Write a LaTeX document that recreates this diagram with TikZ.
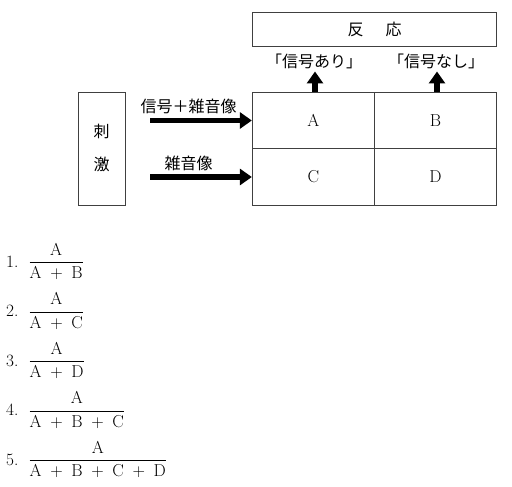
\documentclass[tikz,border=0pt]{standalone}
\usepackage{amsmath}
\usepackage{fontspec}
\usepackage{tikz}
\usetikzlibrary{arrows.meta}
\newfontfamily\jpfont{Noto Sans CJK JP}

\tikzset{
  box/.style={draw=black!75, line width=0.9pt, inner sep=0pt},
  cell/.style={box, minimum width=122pt, minimum height=56.5pt, font=\fontsize{17.28}{20}\selectfont},
  jtext/.style={font=\jpfont\fontsize{16}{18}\selectfont},
  fat/.style={line width=5.5pt, -{Triangle[length=12pt,width=16pt]}},
}

\begin{document}
\begin{tikzpicture}[x=1pt, y=-1pt]
    \useasboundingbox (0,0) rectangle (512,487);

    % response box
    \node[box, jtext, minimum width=244pt, minimum height=34pt] (resp) at (374.5,29.7) {反\hspace{22pt}応};
    \node[jtext] (yes) at (314,61.5) {「信号あり」};
    \node[jtext] (no) at (436,61.5) {「信号なし」};

    % 2x2 grid
    \node[cell] (A) at (313.3,120.5) {A};
    \node[cell] (B) at (435.5,120.5) {B};
    \node[cell] (C) at (313.3,177) {C};
    \node[cell] (D) at (435.5,177) {D};

    % stimulus
    \node[box, jtext, align=center, minimum width=47pt, minimum height=113pt,
          font=\jpfont\fontsize{16}{33}\selectfont] (stim) at (101.7,148.5) {刺\\激};
    \coordinate (s1) at (150,120.5);
    \coordinate (s2) at (150,177);
    \coordinate (r1) at (315,92);
    \coordinate (r2) at (437,92);
    \coordinate (t1) at (315,71.5);
    \coordinate (t2) at (437,71.5);
    \node[jtext] (l1) at (188.5,106) {信号＋雑音像};
    \node[jtext] (l2) at (188.5,163) {雑音像};
    \draw[fat] (s1) -- (A.west);
    \draw[fat] (s2) -- (C.west);
    \draw[fat] (r1) -- (t1);
    \draw[fat] (r2) -- (t2);

    % choices
    \foreach \n/\den in {1/{A+B}, 2/{A+C}, 3/{A+D}, 4/{A+B+C}, 5/{A+B+C+D}} {
        \node[anchor=base west, inner sep=0pt, font=\fontsize{17.28}{20}\selectfont] (q\n)
            at (6,{267+(\n-1)*49.5}) {\n.\hspace{10pt}$\medmuskip=9mu \dfrac{\mathrm{A}}{\mathrm{\den}}$};
    }
\end{tikzpicture}
\end{document}
